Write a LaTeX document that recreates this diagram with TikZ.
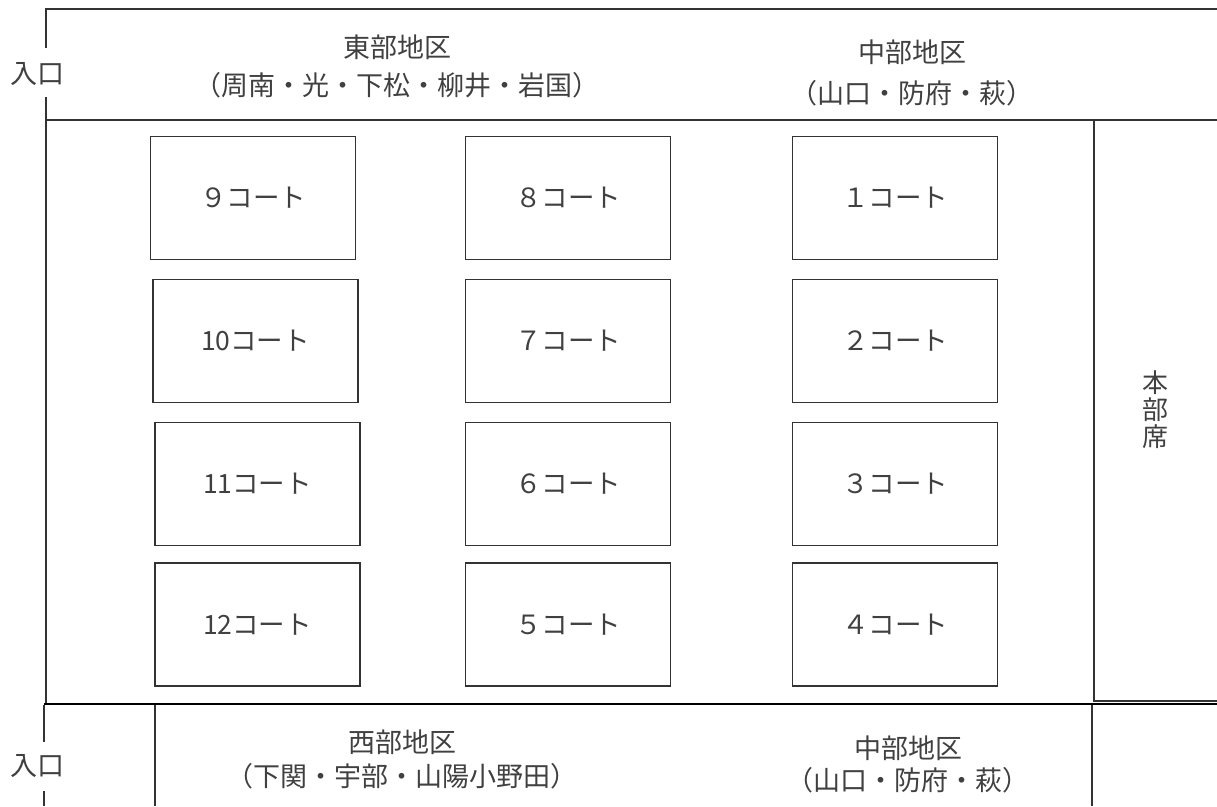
\documentclass[tikz,border=0pt]{standalone}
\usepackage{fontspec}
\setmainfont{Noto Sans CJK JP}
\definecolor{txt}{HTML}{404040}
\definecolor{ln}{HTML}{333333}
\begin{document}
\begin{tikzpicture}[x=1pt,y=-1pt,
  court/.style={draw=ln,line width=1.3pt,minimum width=205pt,minimum height=123pt,inner sep=0pt,text=txt,font=\fontsize{26.5}{30}\selectfont},
  lbl/.style={text=txt,font=\fontsize{27}{38}\selectfont,align=center,inner sep=0pt},
  wall/.style={draw=ln,line width=1.3pt}]
\useasboundingbox (0,0) rectangle (1217,806);
% walls
\draw[wall] (46,48) -- (46,9) -- (1217,9);
\draw[wall] (46,97) -- (46,703);
\draw[wall] (46,120) -- (1217,120);
\draw[wall] (1094,120) -- (1094,701) -- (1217,701);
\draw[draw=black,line width=2.4pt] (44,704) -- (1217,704);
\draw[wall] (44,705) -- (44,742);
\draw[wall] (44,791) -- (44,806);
\draw[wall] (155,705) -- (155,806);
\draw[wall] (1092,705) -- (1092,806);
% courts
\node[court] (c9)  at (253,198) {９コート};
\node[court] (c10) at (255.5,341) {10コート};
\node[court] (c11) at (257.5,484) {11コート};
\node[court] (c12) at (257.5,624.5) {12コート};
\node[court] (c8) at (568,198) {８コート};
\node[court] (c7) at (568,341) {７コート};
\node[court] (c6) at (568,484) {６コート};
\node[court] (c5) at (568,624.5) {５コート};
\node[court] (c1) at (895,198) {１コート};
\node[court] (c2) at (895,341) {２コート};
\node[court] (c3) at (895,484) {３コート};
\node[court] (c4) at (895,624.5) {４コート};
% labels
\node[lbl] (e1) at (37,74) {入口};
\node[lbl] (e2) at (37,766) {入口};
\node[lbl] (east) at (397,66) {東部地区\\（周南・光・下松・柳井・岩国）};
\node[lbl,font=\fontsize{27}{41}\selectfont] (mid1) at (912,73) {中部地区\\（山口・防府・萩）};
\node[lbl,font=\fontsize{27}{34}\selectfont] (west) at (402,759) {西部地区\\（下関・宇部・山陽小野田）};
\node[lbl,font=\fontsize{27}{32}\selectfont] (mid2) at (908,764) {中部地区\\（山口・防府・萩）};
\node[lbl,font=\fontsize{26}{27}\selectfont] (hq) at (1155,410) {本\\部\\席};
\end{tikzpicture}
\end{document}
